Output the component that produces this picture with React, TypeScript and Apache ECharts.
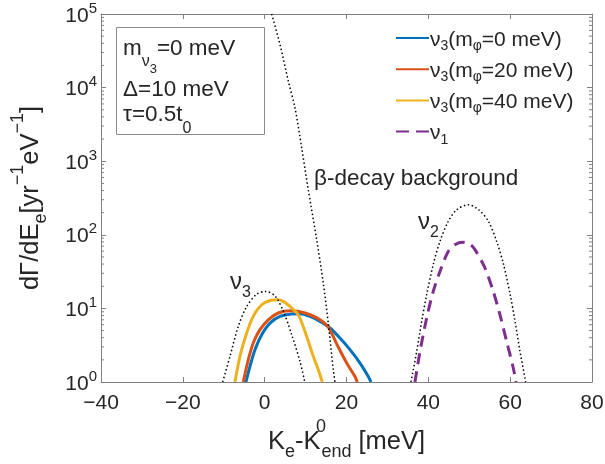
import React, { useEffect, useRef } from 'react';
import * as echarts from 'echarts';

const FONT = '"Liberation Sans", Arial, Helvetica, sans-serif';
const TXT = '#262626';
const AX = '#808080';

// ν3 (mφ = 0 meV) – blue
const xBlue = [-4.57, -3.59, -2.37, -0.73, 1.3, 3.74, 6.6, 8.63, 11.07, 13.52, 15.96, 18.4, 20.85, 23.3, 25.32, 25.98];
const yBlue = [1.0, 1.63, 2.75, 4.39, 6.32, 7.78, 8.4, 8.47, 7.78, 6.66, 5.42, 3.96, 2.75, 1.81, 1.19, 1.0];
// ν3 (mφ = 20 meV) – orange
const xOrange = [-5.23, -4.0, -2.79, -1.15, 0.88, 3.32, 6.18, 8.63, 11.07, 13.52, 15.5, 17.6, 20.04, 22.07, 22.63];
const yOrange = [1.0, 2.01, 3.39, 5.14, 7.0, 8.66, 9.3, 9.0, 8.2, 7.0, 5.6, 3.3, 1.81, 1.19, 1.0];
// ν3 (mφ = 40 meV) – yellow
const xYellow = [-7.26, -6.04, -4.4, -2.79, -0.73, 1.3, 3.32, 5.38, 7.82, 8.63, 10.26, 11.88, 13.1, 14.08];
const yYellow = [1.0, 2.23, 4.63, 7.8, 11.2, 12.8, 13.1, 11.6, 8.7, 7.4, 4.17, 2.23, 1.47, 1.0];
// ν1 – dashed purple
const xNu1 = [36.73, 37.96, 39.59, 41.2, 42.84, 44.87, 46.6, 48.4, 50.2, 51.4, 53.84, 55.87, 57.5, 59.14, 60.76, 61.42];
const yNu1 = [1.0, 2.6, 7.4, 17.0, 31.8, 59.5, 74, 79, 74, 62.8, 35.4, 17.0, 8.2, 3.56, 1.55, 1.0];
// β-decay background – dotted
const xBeta = [1.7, 3.74, 5.77, 7.4, 9.04, 10.66, 12.71, 14.32, 15.54, 16.77, 17.18];
const yBeta = [100000, 38600, 12300, 5330, 1525, 410, 86, 22.1, 6.3, 1.47, 1.0];
// ν3 without decay – dotted
const xNu3Dot = [-10.26, -8.48, -6.45, -4.4, -1.96, 0.2, 2.52, 4.55, 6.6, 8.63, 9.8];
const yNu3Dot = [1.0, 2.23, 5.7, 10.6, 15.6, 17.0, 14.8, 9.2, 4.4, 1.9, 1.0];
// ν2 – dotted
const xNu2Dot = [35.75, 37.15, 38.37, 39.59, 41.2, 42.84, 44.87, 46.92, 49.8, 52.3, 54.7, 56.7, 58.4, 60.0, 61.2, 62.4, 63.8];
const yNu2Dot = [1.0, 2.6, 6.66, 15.4, 39.3, 81.4, 152, 219, 256, 219, 152, 81.4, 39.3, 15.4, 6.66, 2.6, 1.0];

const xMin = -40;
const xMax = 80;
const xStep = 20;
const yMin = 1;
const yMax = 100000;
const minorTickValues: number[] = [];
for (let d = 1; d < yMax; d *= 10) {
  for (let k = 2; k <= 9; k++) minorTickValues.push(k * d);
}

const legendNames = ['nu3_0', 'nu3_20', 'nu3_40', 'nu1'];
const legendLabels: Record<string, string> = {
  nu3_0: '{f|ν}{s|3}{m|(m}{s|φ}{m|=0 meV)}',
  nu3_20: '{f|ν}{s|3}{m|(m}{s|φ}{m|=20 meV)}',
  nu3_40: '{f|ν}{s|3}{m|(m}{s|φ}{m|=40 meV)}',
  nu1: '{f|ν}{s|1}',
};

const pairs = (xs: number[], ys: number[]) => xs.map((x, i) => [x, ys[i]]);

function lineSeries(name: string, xs: number[], ys: number[], color: string, width: number, type: any, z: number) {
  return {
    name,
    type: 'line',
    data: pairs(xs, ys),
    symbol: 'none',
    smooth: 0.3,
    lineStyle: { color, width, type },
    itemStyle: { color },
    z,
    silent: true,
  };
}

function gText(x: number, y: number, text: string, rich: any, fontSize: number) {
  return {
    type: 'text',
    x,
    y,
    z: 100,
    style: {
      text,
      rich,
      fontSize,
      fontFamily: FONT,
      fill: TXT,
      textAlign: 'left',
      textVerticalAlign: 'middle',
      align: 'left',
      verticalAlign: 'middle',
    },
  };
}

function rs(fontSize: number, lineHeight: number, padding?: number[]) {
  const o: any = { fontSize, fontFamily: FONT, fill: TXT, color: TXT, lineHeight, verticalAlign: 'middle' };
  if (padding) o.padding = padding;
  return o;
}

const axisLineStyle = { show: true, onZero: false, lineStyle: { color: AX, width: 1 } };
const tickStyle = { show: true, inside: true, length: 5, lineStyle: { color: AX } };

export default function App() {
  const ref = useRef<HTMLDivElement>(null);
  useEffect(() => {
    const chart = echarts.init(ref.current!, null, { renderer: 'svg' });
    const axisRich = {
      b: rs(25.5, 40),
      sb: rs(18, 40, [22, 0, 0, 0]),
      sp: rs(18, 40, [0, 0, 24, 0]),
      sp0: { ...rs(18, 40, [0, 0, 28, 0]), width: 1 },
    };
    const option: any = {
      animation: false,
      grid: { left: 101, right: 13, top: 14, bottom: 82, outerBoundsMode: 'none' },
      xAxis: [
        {
          type: 'value',
          min: xMin,
          max: xMax,
          interval: xStep,
          position: 'bottom',
          axisLine: axisLineStyle,
          axisTick: tickStyle,
          splitLine: { show: false },
          axisLabel: {
            fontSize: 21,
            fontFamily: FONT,
            color: TXT,
            margin: 9,
            formatter: (v: number) => (v < 0 ? '−' + Math.abs(v) : String(v)),
          },
          name: '{b|K}{sb|e}{b|-K}{sp0|0}{sb|end}{b| [meV]}',
          nameLocation: 'middle',
          nameGap: 35,
          nameTextStyle: { fontSize: 25, fontFamily: FONT, color: TXT, lineHeight: 40, rich: axisRich },
        },
        {
          type: 'value',
          min: xMin,
          max: xMax,
          interval: xStep,
          position: 'top',
          axisLine: axisLineStyle,
          axisTick: tickStyle,
          splitLine: { show: false },
          axisLabel: { show: false },
        },
      ],
      yAxis: [
        {
          type: 'log',
          logBase: 10,
          min: yMin,
          max: yMax,
          position: 'left',
          axisLine: axisLineStyle,
          axisTick: tickStyle,
          splitLine: { show: false },
          axisLabel: {
            margin: 4,
            color: TXT,
            fontFamily: FONT,
            fontSize: 21,
            lineHeight: 30,
            formatter: (v: number) => '{b|10}{s|' + Math.round(Math.log10(v)) + '}',
            rich: {
              b: rs(21, 30),
              s: rs(15, 30, [0, 0, 14, 0]),
            },
          },
          name: '{b|dΓ/dE}{sb|e}{b|[yr}{sp|−1}{b|eV}{sp|−1}{b|]}',
          nameLocation: 'middle',
          nameGap: 52,
          nameRotate: 90,
          nameTextStyle: { fontSize: 25.5, fontFamily: FONT, color: TXT, lineHeight: 40, rich: axisRich },
        },
        {
          type: 'log',
          logBase: 10,
          min: yMin,
          max: yMax,
          position: 'right',
          axisLine: axisLineStyle,
          axisTick: tickStyle,
          splitLine: { show: false },
          axisLabel: { show: false },
        },
      ],
      legend: {
        orient: 'vertical',
        left: 395,
        top: 24,
        padding: 0,
        itemWidth: 33,
        itemHeight: 14,
        itemGap: 3.2,
        selectedMode: false,
        itemStyle: { opacity: 0 },
        data: [
          { name: 'nu3_0', itemStyle: { opacity: 0 } },
          { name: 'nu3_20', itemStyle: { opacity: 0 } },
          { name: 'nu3_40', itemStyle: { opacity: 0 } },
          { name: 'nu1', itemStyle: { opacity: 0 }, lineStyle: { type: [13, 7] } },
        ],
        formatter: (name: string) => legendLabels[name],
        textStyle: {
          fontSize: 21,
          fontFamily: FONT,
          color: TXT,
          lineHeight: 24,
          rich: {
            f: rs(21, 24, [0, 0, 0, -4]),
            m: rs(21, 24),
            s: rs(14, 24, [14, 0, 0, 0]),
          },
        },
      },
      series: [
        lineSeries(legendNames[0], xBlue, yBlue, '#0072BD', 3, 'solid', 2),
        lineSeries(legendNames[1], xOrange, yOrange, '#D95319', 3, 'solid', 3),
        lineSeries(legendNames[2], xYellow, yYellow, '#EDB120', 3, 'solid', 4),
        lineSeries(legendNames[3], xNu1, yNu1, '#7E2F8E', 3, [11, 7], 5),
        lineSeries('beta', xBeta, yBeta, '#000000', 1.5, [1.5, 2.5], 6),
        lineSeries('nu3dot', xNu3Dot, yNu3Dot, '#000000', 1.5, [1.5, 2.5], 6),
        lineSeries('nu2dot', xNu2Dot, yNu2Dot, '#000000', 1.5, [1.5, 2.5], 6),
        {
          name: 'minorTicks',
          type: 'custom',
          silent: true,
          data: minorTickValues.map((v) => [xMin, v]),
          encode: { x: 0, y: 1 },
          renderItem: (params: any, api: any) => {
            const p = api.coord([api.value(0), api.value(1)]);
            const cs = params.coordSys;
            const left = cs.x;
            const right = cs.x + cs.width;
            return {
              type: 'group',
              children: [
                { type: 'line', shape: { x1: left, y1: p[1], x2: left + 3, y2: p[1] }, style: { stroke: AX, lineWidth: 1 } },
                { type: 'line', shape: { x1: right - 3, y1: p[1], x2: right, y2: p[1] }, style: { stroke: AX, lineWidth: 1 } },
              ],
            };
          },
        },
      ],
      graphic: [
        {
          type: 'rect',
          z: 90,
          shape: { x: 116.5, y: 27.5, width: 148, height: 107 },
          style: { fill: 'rgba(255,255,255,0)', stroke: '#8a8a8a', lineWidth: 1 },
        },
        gText(123, 47, '{m|m}{s1|ν}{s2|3}{m|=0 meV}', {
          m: rs(22.5, 50),
          s1: rs(16, 50, [26, 0, 0, 0]),
          s2: rs(13, 50, [42, 0, 0, 0]),
        }, 22.5),
        gText(123, 88, '{m|Δ=10 meV}', { m: rs(22.5, 40) }, 22.5),
        gText(123, 113.5, '{m|τ=0.5t}{s|0}', { m: rs(22.5, 40), s: rs(16, 40, [27, 0, 0, 0]) }, 22.5),
        gText(314, 177, '{m|β-decay background}', { m: rs(22.5, 40) }, 22.5),
        gText(230, 280, '{m|ν}{s|3}', { m: rs(24, 40), s: rs(16, 40, [22, 0, 0, 0]) }, 24),
        gText(418, 220, '{m|ν}{s|2}', { m: rs(24, 40), s: rs(16, 40, [22, 0, 0, 0]) }, 24),
      ],
    };
    chart.setOption(option);
    return () => chart.dispose();
  }, []);
  return <div ref={ref} style={{ position: 'fixed', left: 0, top: 0, width: 605, height: 464 }} />;
}
